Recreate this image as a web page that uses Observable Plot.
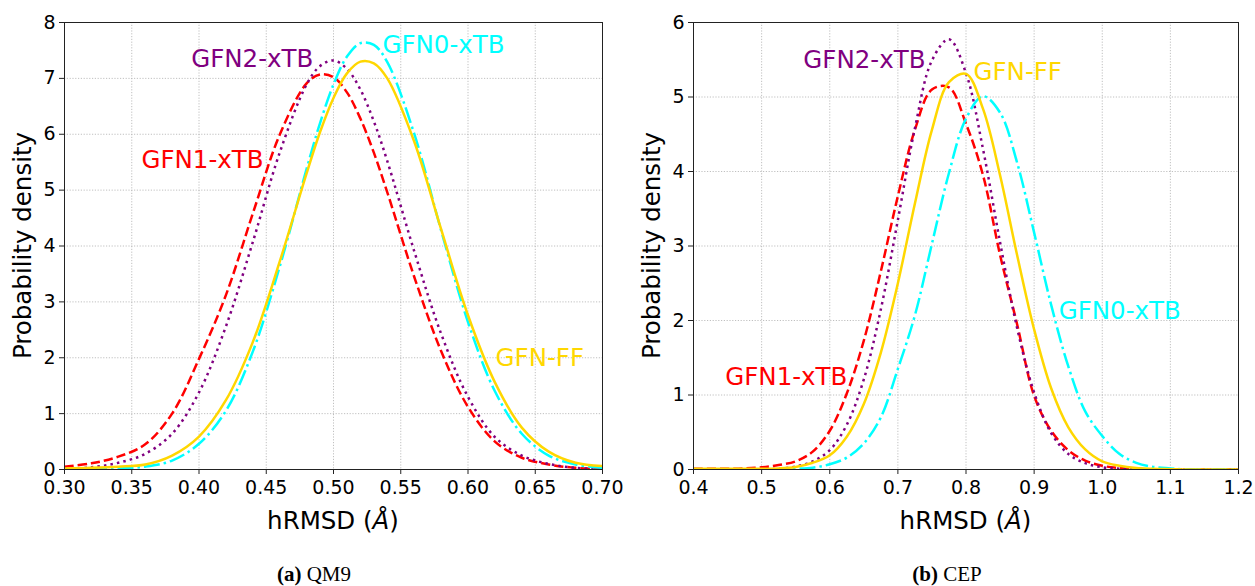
<!DOCTYPE html>
<html>
<head>
<meta charset="utf-8">
<script src="https://cdn.jsdelivr.net/npm/d3@7"></script>
<script src="https://cdn.jsdelivr.net/npm/@observablehq/plot@0.6"></script>
<style>
  html, body { margin: 0; padding: 0; background: #fff; }
  #wrap { position: relative; width: 1255px; height: 586px; overflow: hidden; background: #fff; }
  #wrap > .panel { position: absolute; top: 0; }
  #overlay { position: absolute; left: 0; top: 0; pointer-events: none; }
</style>
</head>
<body>
<div id="wrap">
  <div class="panel" id="pa" style="left:0px"></div>
  <div class="panel" id="pb" style="left:630px"></div>
  <svg id="overlay" width="1255" height="586"></svg>
</div>
<script>
// ---------- Series ----------
const seriesNames = ["GFN1-xTB", "GFN2-xTB", "GFN0-xTB", "GFN-FF"];
const seriesColors = ["#ff0000", "#800080", "#00ffff", "#ffd700"];
const seriesDash = ["9.25,4", "2.5,4.1", "16,4,2.5,4", null];

// ---------- Panel (a): QM9 ----------
const qm9X = [0.30,0.32,0.34,0.36,0.38,0.40,0.42,0.44,0.46,0.48,0.49,0.50,0.51,0.52,0.53,0.54,0.56,0.58,0.60,0.62,0.64,0.66,0.68,0.70];
const qm9GFN1 = [0.05,0.11,0.23,0.45,1.00,1.98,3.12,4.58,5.99,6.91,7.07,7.02,6.75,6.28,5.67,4.96,3.45,2.12,1.12,0.50,0.21,0.09,0.03,0.01];
const qm9GFN2 = [0.01,0.04,0.12,0.28,0.64,1.38,2.56,4.07,5.67,6.89,7.22,7.32,7.17,6.80,6.23,5.52,3.91,2.43,1.30,0.58,0.25,0.10,0.03,0.01];
const qm9GFN0 = [0.00,0.01,0.02,0.05,0.16,0.46,1.05,2.11,3.63,5.38,6.20,6.89,7.39,7.63,7.60,7.29,6.01,4.28,2.64,1.40,0.64,0.25,0.09,0.03];
const qm9GFNFF = [0.02,0.03,0.05,0.09,0.25,0.59,1.24,2.28,3.72,5.30,6.04,6.65,7.09,7.30,7.27,7.00,5.87,4.30,2.76,1.56,0.75,0.32,0.12,0.06];
const qm9XTicks = [0.30,0.35,0.40,0.45,0.50,0.55,0.60,0.65,0.70];
const qm9YTicks = [0,1,2,3,4,5,6,7,8];
const qm9LabelX = [0.448, 0.485, 0.5364, 0.6205];
const qm9LabelY = [5.53, 7.34, 7.59, 1.99];
const qm9LabelAnchor = ["end", "end", "start", "start"];

// ---------- Panel (b): CEP ----------
const cepX = [0.400,0.425,0.450,0.475,0.500,0.525,0.550,0.575,0.600,0.625,0.650,0.675,0.700,0.725,0.750,0.775,0.800,0.825,0.850,0.875,0.900,0.925,0.950,0.975,1.000,1.025,1.050,1.075,1.100,1.125,1.150,1.175,1.200];
const cepGFN1 = [0.01,0.01,0.01,0.015,0.03,0.06,0.11,0.24,0.52,1.02,1.73,2.66,3.67,4.56,5.10,5.13,4.64,3.95,2.88,1.95,0.99,0.52,0.26,0.12,0.05,0.02,0.01,0,0,0,0,0,0];
const cepGFN2 = [0,0,0,0,0.005,0.01,0.04,0.11,0.26,0.60,1.21,2.15,3.35,4.58,5.49,5.775,5.32,4.30,3.05,1.90,1.035,0.49,0.21,0.085,0.03,0.01,0,0,0,0,0,0,0];
const cepGFN0 = [0,0,0,0,0,0,0.01,0.025,0.07,0.16,0.35,0.70,1.35,2.07,3.03,3.98,4.71,5.01,4.79,4.12,3.18,2.21,1.39,0.78,0.45,0.21,0.09,0.035,0.015,0,0,0,0];
const cepGFNFF = [0.01,0.01,0.01,0.01,0.01,0.015,0.035,0.09,0.19,0.44,0.88,1.57,2.50,3.57,4.56,5.20,5.31,4.84,3.95,2.88,1.88,1.09,0.57,0.27,0.11,0.05,0.02,0.01,0.005,0,0,0,0];
const cepXTicks = [0.4,0.5,0.6,0.7,0.8,0.9,1.0,1.1,1.2];
const cepYTicks = [0,1,2,3,4,5,6];
const cepLabelX = [0.6259, 0.7405, 0.936, 0.811];
const cepLabelY = [1.235, 5.50, 2.13, 5.33];
const cepLabelAnchor = ["end", "end", "start", "start"];

function toRows(xs, ys) { return xs.map((x, i) => ({x, y: ys[i]})); }

function panel({xs, ys, xDomain, yDomain, xTicks, yTicks, xFmt, labelX, labelY, labelAnchor, width, marginLeft, marginRight}) {
  const lineMarks = ys.map((arr, i) => Plot.line(toRows(xs, arr), {
    x: "x", y: "y", stroke: seriesColors[i], strokeWidth: 2.5,
    strokeDasharray: seriesDash[i] || undefined,
    strokeLinecap: "butt",
    curve: "catmull-rom", clip: true
  }));
  const labels = seriesNames.map((name, i) => ({name, x: labelX[i], y: labelY[i], anchor: labelAnchor[i], color: seriesColors[i]}));
  const labelMarks = ["start", "end"].map(a => Plot.text(labels.filter(d => d.anchor === a), {
    x: "x", y: "y", text: "name", fill: "color", textAnchor: a, fontSize: 24.5, lineAnchor: "middle"
  }));
  return Plot.plot({
    width, height: 500,
    marginLeft, marginRight, marginTop: 22, marginBottom: 31,
    style: {fontFamily: "DejaVu Sans", fontSize: "19px", color: "#000", background: "transparent"},
    x: {domain: xDomain, inset: 0},
    y: {domain: yDomain, inset: 0},
    marks: [
      Plot.gridX(xTicks, {stroke: "#b0b0b0", strokeOpacity: 1, strokeWidth: 0.8, strokeDasharray: "1.2,1.6"}),
      Plot.gridY(yTicks, {stroke: "#b0b0b0", strokeOpacity: 1, strokeWidth: 0.8, strokeDasharray: "1.2,1.6"}),
      ...lineMarks,
      ...labelMarks,
      Plot.frame({stroke: "#222", strokeWidth: 1}),
      Plot.axisX(xTicks, {tickFormat: d3.format(xFmt), tickSize: 5, tickPadding: 6, fontSize: 19, label: null, stroke: "#222"}),
      Plot.axisY(yTicks, {tickFormat: d3.format("d"), tickSize: 5, tickPadding: 4, fontSize: 19, label: null, stroke: "#222"})
    ]
  });
}

document.getElementById("pa").append(panel({
  xs: qm9X, ys: [qm9GFN1, qm9GFN2, qm9GFN0, qm9GFNFF],
  xDomain: [0.30, 0.70], yDomain: [0, 8], xTicks: qm9XTicks, yTicks: qm9YTicks, xFmt: ".2f",
  labelX: qm9LabelX, labelY: qm9LabelY, labelAnchor: qm9LabelAnchor,
  width: 627, marginLeft: 64, marginRight: 25
}));
document.getElementById("pb").append(panel({
  xs: cepX, ys: [cepGFN1, cepGFN2, cepGFN0, cepGFNFF],
  xDomain: [0.4, 1.2], yDomain: [0, 6], xTicks: cepXTicks, yTicks: cepYTicks, xFmt: ".1f",
  labelX: cepLabelX, labelY: cepLabelY, labelAnchor: cepLabelAnchor,
  width: 625, marginLeft: 63, marginRight: 17
}));

// Titles and captions (text only)
const ns = "http://www.w3.org/2000/svg";
const ov = document.getElementById("overlay");
function addText(x, y, parts, opts = {}) {
  const t = document.createElementNS(ns, "text");
  t.setAttribute("x", x); t.setAttribute("y", y);
  t.setAttribute("text-anchor", "middle");
  t.setAttribute("font-family", opts.family || "DejaVu Sans");
  t.setAttribute("font-size", opts.size || 24.5);
  t.setAttribute("fill", "#000");
  if (opts.rotate) t.setAttribute("transform", `rotate(-90 ${x} ${y})`);
  for (const p of parts) {
    const s = document.createElementNS(ns, "tspan");
    s.textContent = p.text;
    if (p.italic) s.setAttribute("font-style", "italic");
    if (p.bold) s.setAttribute("font-weight", "bold");
    t.appendChild(s);
  }
  ov.appendChild(t);
}
const xTitle = [{text: "hRMSD ("}, {text: "Å", italic: true}, {text: ")"}];
addText(333, 529, xTitle);
addText(965.5, 529, xTitle);
addText(31, 245.5, [{text: "Probability density"}], {rotate: true});
addText(660, 245.5, [{text: "Probability density"}], {rotate: true});
addText(314, 581, [{text: "(a)", bold: true}, {text: " QM9"}], {family: "Liberation Serif", size: 21});
addText(947, 581, [{text: "(b)", bold: true}, {text: " CEP"}], {family: "Liberation Serif", size: 21});
</script>
</body>
</html>
